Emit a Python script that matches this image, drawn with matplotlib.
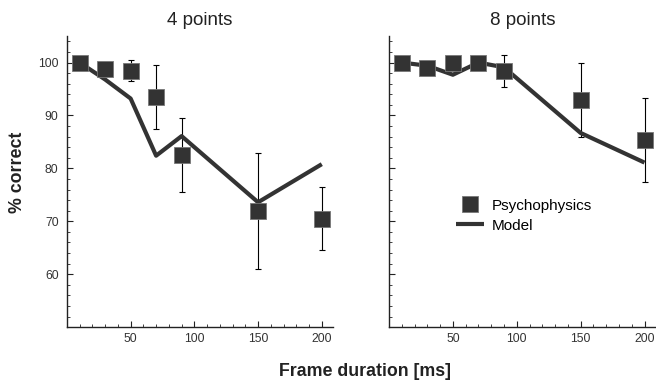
import numpy as np
import matplotlib
matplotlib.use('Agg')
import matplotlib.pyplot as plt
from matplotlib.ticker import MultipleLocator

plt.rcParams['font.family'] = ['Liberation Sans', 'DejaVu Sans']

# frame durations (ms)
durations = [10, 30, 50, 70, 90, 150, 200]

# 4 points condition
psy_4 = [100, 98.8, 98.4, 93.4, 82.5, 71.9, 70.4]
err_lo_4 = [100, 98.8, 96.5, 87.5, 75.5, 61.0, 64.5]
err_hi_4 = [100, 98.8, 100.5, 99.5, 89.5, 83.0, 76.5]
model_4 = [100, 96.8, 93.2, 82.4, 86.1, 73.6, 80.8]

# 8 points condition
psy_8 = [100, 98.9, 100, 100, 98.4, 92.9, 85.4]
err_lo_8 = [100, 98.9, 100, 100, 95.4, 85.9, 77.5]
err_hi_8 = [100, 98.9, 100, 100, 101.4, 99.9, 93.3]
model_8 = [100, 99.4, 97.7, 100, 99.1, 86.7, 81.1]

titles = ['4 points', '8 points']
dark = '#333333'

fig = plt.figure(figsize=(6.56, 3.84), dpi=100)
ax_l = fig.add_axes([0.102, 0.148, 0.406, 0.758])
ax_r = fig.add_axes([0.593, 0.148, 0.407, 0.758])

panels = [
    (ax_l, psy_4, err_lo_4, err_hi_4, model_4),
    (ax_r, psy_8, err_lo_8, err_hi_8, model_8),
]

for i, (ax, psy, lo, hi, model) in enumerate(panels):
    psy = np.array(psy)
    yerr = [psy - np.array(lo), np.array(hi) - psy]
    ax.errorbar(durations, psy, yerr=yerr, fmt='none', ecolor='black',
                elinewidth=0.8, capsize=2.5, capthick=0.8, zorder=1)
    ax.plot(durations, model, color=dark, lw=3, solid_capstyle='butt',
            label='Model', zorder=2)
    ax.plot(durations, psy, ls='', marker='s', ms=11.5, color=dark,
            mec='#777777', mew=0.6, label='Psychophysics', zorder=3)

    ax.set_xlim(0, 209)
    ax.set_ylim(50, 105)
    ax.set_xticks([50, 100, 150, 200])
    ax.xaxis.set_minor_locator(MultipleLocator(10))
    ax.set_yticks([60, 70, 80, 90, 100])
    ax.yaxis.set_minor_locator(MultipleLocator(2))
    ax.tick_params(which='both', direction='in', colors='#222222',
                   labelcolor='#333333', labelsize=8.8)
    ax.tick_params(which='major', length=4, width=0.8)
    ax.tick_params(which='minor', length=2, width=0.6)
    ax.tick_params(axis='y', pad=6)
    ax.tick_params(axis='x', pad=4)
    for s in ['top', 'right']:
        ax.spines[s].set_visible(False)
    for s in ['left', 'bottom']:
        ax.spines[s].set_linewidth(1.0)
        ax.spines[s].set_color('#222222')
    ax.set_title(titles[i], fontsize=13.5, pad=8, color='#222222')

ax_r.tick_params(axis='y', labelleft=False)

handles, labels = ax_r.get_legend_handles_labels()
ax_r.legend(handles[::-1], labels[::-1], loc='center left',
            bbox_to_anchor=(0.2, 0.383), frameon=False, fontsize=11,
            handlelength=1.8, handletextpad=0.5, labelspacing=0.4,
            markerscale=1.0)

fig.text(0.027, 0.552, '% correct', rotation=90, ha='center', va='center',
         fontsize=12.8, fontweight='bold', color='#222222')
fig.text(0.556, 0.021, 'Frame duration [ms]', ha='center', va='baseline',
         fontsize=12.8, fontweight='bold', color='#222222')

fig.savefig('out.png', dpi=100)
